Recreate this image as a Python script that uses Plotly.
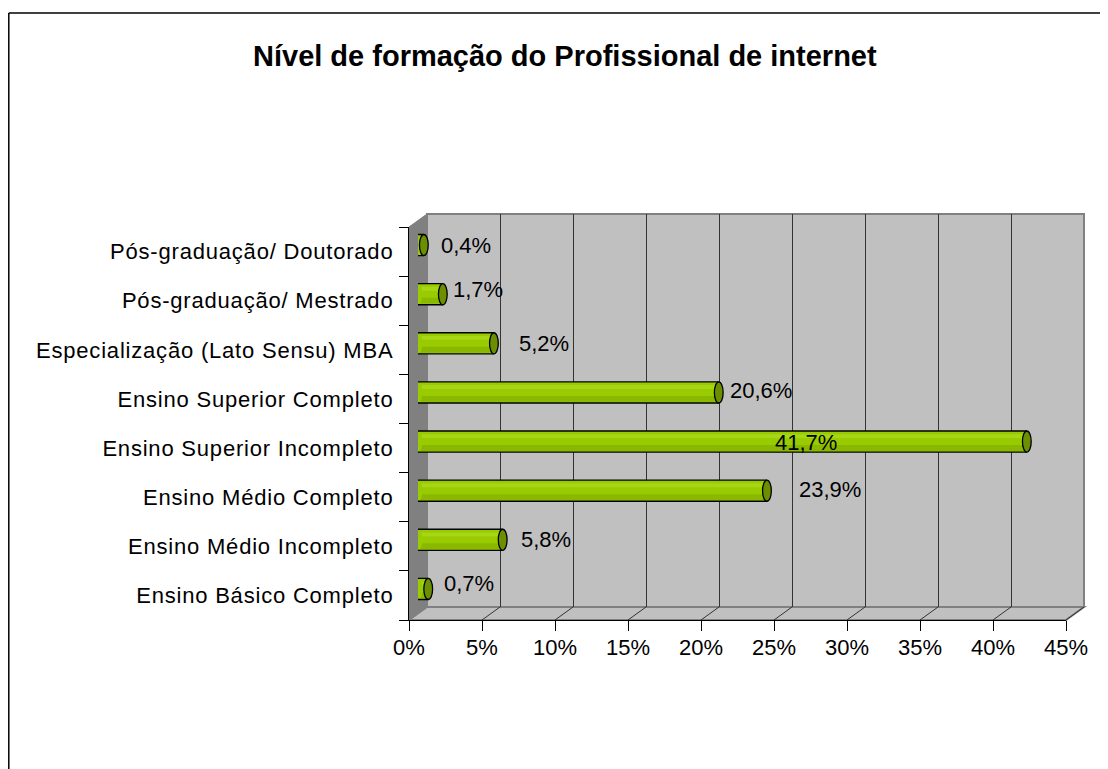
import plotly.graph_objects as go

# ---------------- data ----------------
categories = [
    "Pós-graduação/ Doutorado",
    "Pós-graduação/ Mestrado",
    "Especialização (Lato Sensu) MBA",
    "Ensino Superior Completo",
    "Ensino Superior Incompleto",
    "Ensino Médio Completo",
    "Ensino Médio Incompleto",
    "Ensino Básico Completo",
]
values = [0.4, 1.7, 5.2, 20.6, 41.7, 23.9, 5.8, 0.7]
value_labels = ["0,4%", "1,7%", "5,2%", "20,6%", "41,7%", "23,9%", "5,8%", "0,7%"]
x_ticks = [0, 5, 10, 15, 20, 25, 30, 35, 40, 45]
title = "Nível de formação do Profissional de internet"

# ---------------- styling / geometry ----------------
W, H = 1108, 769
OFF = 8  # page body margin
FONT = "Liberation Sans, Arial, sans-serif"
label_dx = [15, 8, 23, 9, -254, 30, 16, 14]   # label offsets (px) as in the original
label_dy = [0, -5, 0, -2, 1, -1, 0, -5]

def px(x):
    return (x - OFF) / W

def py(y):
    return 1 - (y - OFF) / H

# front plane, back wall, mid-depth (bars) in window pixels
FX0, FX1, FY0, FY1 = 409, 1066, 227, 620
BX0, BX1, BY0, BY1 = 427, 1084, 214, 607
MX0, MX1, MY0, MY1 = 418, 1075, 220.5, 613.5
XMAX = 45
n = len(categories)
idx = list(range(n))

fig = go.Figure()

# invisible traces to establish the front and back subplots
fig.add_trace(go.Scatter(x=values, y=categories, mode="markers", marker=dict(opacity=0),
                         hoverinfo="skip", showlegend=False, xaxis="x", yaxis="y"))
fig.add_trace(go.Scatter(x=[0], y=[0], mode="markers", marker=dict(opacity=0),
                         hoverinfo="skip", showlegend=False, xaxis="x2", yaxis="y2"))

# cylinders (bars) on mid-depth axes
HH = 0.215  # half bar thickness (category units)
fig.add_trace(go.Bar(x=values, y=idx, orientation="h", width=2 * HH, offset=-HH,
                     marker=dict(color="#99CC00", line=dict(width=0)),
                     xaxis="x3", yaxis="y3", showlegend=False, hoverinfo="skip"))
fig.add_trace(go.Bar(x=values, y=idx, orientation="h", width=0.12, offset=0.07,
                     marker=dict(color="#8AB800", line=dict(width=0)),
                     xaxis="x3", yaxis="y3", showlegend=False, hoverinfo="skip"))
fig.add_trace(go.Bar(x=values, y=idx, orientation="h", width=0.08, offset=-0.15,
                     marker=dict(color="#A6D615", line=dict(width=0)),
                     xaxis="x3", yaxis="y3", showlegend=False, hoverinfo="skip"))

shapes = []
# outer chart border: only the top and left edges are inside the picture
shapes.append(dict(type="line", xref="paper", yref="paper", x0=px(8.8), x1=px(1140),
                   y0=py(13), y1=py(13), line=dict(color="black", width=1.5), layer="below"))
shapes.append(dict(type="line", xref="paper", yref="paper", x0=px(8.8), x1=px(8.8),
                   y0=-0.1, y1=py(13), line=dict(color="black", width=1.5), layer="below"))
# back wall
shapes.append(dict(type="rect", xref="paper", yref="paper", x0=px(BX0), x1=px(BX1),
                   y0=py(BY1), y1=py(BY0), fillcolor="#C0C0C0",
                   line=dict(color="#808080", width=2), layer="below"))
# side wall
shapes.append(dict(type="path", xref="paper", yref="paper",
                   path=f"M {px(FX0)},{py(FY0)} L {px(BX0)},{py(BY0)} L {px(BX0)},{py(BY1)} L {px(FX0)},{py(FY1)} Z",
                   fillcolor="#808080", line=dict(color="#808080", width=1), layer="below"))
# floor
shapes.append(dict(type="path", xref="paper", yref="paper",
                   path=f"M {px(FX0)},{py(FY1)} L {px(BX0)},{py(BY1)} L {px(BX1)},{py(BY1)} L {px(FX1)},{py(FY1)} Z",
                   fillcolor="#C0C0C0", line=dict(color="#808080", width=2), layer="below"))
# floor diagonals at each tick
for t in x_ticks[1:]:
    fxp = FX0 + (FX1 - FX0) * t / XMAX
    bxp = BX0 + (BX1 - BX0) * t / XMAX
    shapes.append(dict(type="line", xref="paper", yref="paper", x0=px(fxp), y0=py(FY1),
                       x1=px(bxp), y1=py(BY1), line=dict(color="#333333", width=1), layer="below"))

# cylinder outlines and end caps (data coordinates on x3/y3)
E = 0.3  # half width of the elliptical end caps (x units)
K = E * 4 / 3
for i, v in zip(idx, values):
    shapes.append(dict(type="circle", xref="x3", yref="y3", x0=-E, x1=E, y0=i - HH, y1=i + HH,
                       fillcolor="#99CC00", line=dict(width=0), layer="above"))
    shapes.append(dict(type="path", xref="x3", yref="y3",
                       path=(f"M 0,{i - HH} L {v},{i - HH} M 0,{i + HH} L {v},{i + HH} "
                             f"M 0,{i - HH} C {-K},{i - HH} {-K},{i + HH} 0,{i + HH}"),
                       line=dict(color="black", width=1.3), layer="above"))
    shapes.append(dict(type="circle", xref="x3", yref="y3", x0=v - E, x1=v + E, y0=i - HH, y1=i + HH,
                       fillcolor="#6B8F00", line=dict(color="black", width=1.3), layer="above"))

annotations = []
for i, (v, lab, dx, dy) in enumerate(zip(values, value_labels, label_dx, label_dy)):
    annotations.append(dict(x=v, y=i, xref="x3", yref="y3", text=lab, showarrow=False,
                            xanchor="left", yanchor="middle", xshift=dx, yshift=-dy,
                            font=dict(family=FONT, size=22, color="black")))
annotations.append(dict(x=px(564.5), y=py(56), xref="paper", yref="paper", text=f"<b>{title}</b>",
                        showarrow=False, xanchor="center", yanchor="middle",
                        font=dict(family=FONT, size=29, color="black")))

cat_ticktext = [f'<span style="letter-spacing:0.8px">{c}</span>' for c in categories]

fig.update_layout(
    width=W, height=H, margin=dict(l=0, r=0, t=0, b=0, pad=0),
    paper_bgcolor="white", plot_bgcolor="rgba(0,0,0,0)",
    barmode="overlay", showlegend=False,
    font=dict(family=FONT, size=22, color="black"),
    xaxis=dict(domain=[px(FX0), px(FX1)], range=[0, XMAX], tickmode="array", tickvals=x_ticks,
               ticktext=[f"{t}%" for t in x_ticks], ticks="outside", ticklen=10,
               tickcolor="black", showline=True, linecolor="black", linewidth=1.3,
               showgrid=False, zeroline=False, anchor="y", fixedrange=True, automargin=False,
               ticklabelstandoff=-3, tickfont=dict(family=FONT, size=22)),
    yaxis=dict(domain=[py(FY1), py(FY0)], type="category", categoryorder="array",
               categoryarray=categories, range=[n - 0.5, -0.5], tickson="boundaries",
               tickmode="array", tickvals=categories, ticktext=cat_ticktext,
               ticks="outside", ticklen=9, tickcolor="black", showline=True,
               linecolor="black", linewidth=1.3, showgrid=False, zeroline=False,
               anchor="x", fixedrange=True, automargin=False, ticklabelstandoff=10,
               tickfont=dict(family=FONT, size=22)),
    xaxis2=dict(domain=[px(BX0), px(BX1)], range=[0, XMAX], tickvals=x_ticks[1:-1],
                showticklabels=False, ticks="", showgrid=True, gridcolor="#333333",
                gridwidth=1, zeroline=False, showline=False, anchor="y2", fixedrange=True,
                automargin=False),
    yaxis2=dict(domain=[py(BY1), py(BY0)], range=[0, 1], showticklabels=False, ticks="",
                showgrid=False, zeroline=False, showline=False, anchor="x2", fixedrange=True,
                automargin=False),
    xaxis3=dict(domain=[px(MX0), px(MX1)], range=[0, XMAX], visible=False, anchor="y3",
                fixedrange=True, automargin=False),
    yaxis3=dict(domain=[py(MY1), py(MY0)], range=[n - 0.5, -0.5], visible=False, anchor="x3",
                fixedrange=True, automargin=False),
    shapes=shapes, annotations=annotations,
)

fig.write_html("out.html")
